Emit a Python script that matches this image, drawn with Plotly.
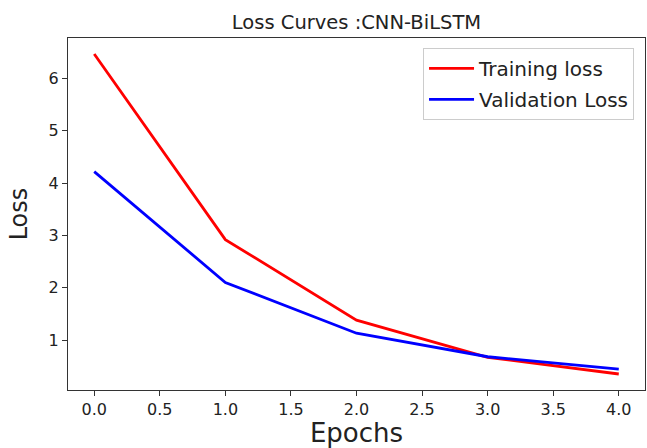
import plotly.graph_objects as go

epochs = [0, 1, 2, 3, 4]
training_loss = [6.47, 2.92, 1.38, 0.67, 0.35]
validation_loss = [4.22, 2.10, 1.13, 0.68, 0.445]
x_ticks = [0.0, 0.5, 1.0, 1.5, 2.0, 2.5, 3.0, 3.5, 4.0]
x_tick_labels = ["0.0", "0.5", "1.0", "1.5", "2.0", "2.5", "3.0", "3.5", "4.0"]
y_ticks = [1, 2, 3, 4, 5, 6]

FONT = "DejaVu Sans"

fig = go.Figure()
fig.add_trace(go.Scatter(x=epochs, y=training_loss, mode="lines", name="Training loss",
                         legendgroup="a", line=dict(color="#ff0000", width=2.8)))
fig.add_trace(go.Scatter(x=epochs, y=validation_loss, mode="lines", name="Validation Loss",
                         legendgroup="b", line=dict(color="#0000ff", width=2.8)))

axis_common = dict(showline=True, linecolor="#333333", linewidth=1.3, mirror=True,
                   ticks="outside", ticklen=5, tickcolor="#333333", showgrid=False,
                   zeroline=False, automargin=False,
                   tickfont=dict(family=FONT, size=16, color="#222222"))

fig.update_layout(
    width=647, height=448,
    margin=dict(l=68, r=2, t=38, b=58),
    paper_bgcolor="white", plot_bgcolor="white",
    title=dict(text="Loss Curves :CNN-BiLSTM", x=0.551, xanchor="center",
               y=0.951, yanchor="middle", yref="container",
               font=dict(family=FONT, size=19.5, color="#222222")),
    xaxis=dict(range=[-0.2, 4.2], tickvals=x_ticks, ticktext=x_tick_labels,
               title=dict(text="Epochs", font=dict(family=FONT, size=26, color="#222222"), standoff=4),
               **axis_common),
    yaxis=dict(range=[0.044, 6.776], tickvals=y_ticks,
               title=dict(text="Loss", font=dict(family=FONT, size=24, color="#222222"), standoff=14),
               **axis_common),
    legend=dict(x=0.981, y=0.972, xanchor="right", yanchor="top",
                bgcolor="rgba(255,255,255,0.9)", bordercolor="#cccccc", borderwidth=1,
                font=dict(family=FONT, size=20, color="#222222"), itemwidth=45,
                tracegroupgap=2),
    showlegend=True,
)

fig.write_html("out.html")
